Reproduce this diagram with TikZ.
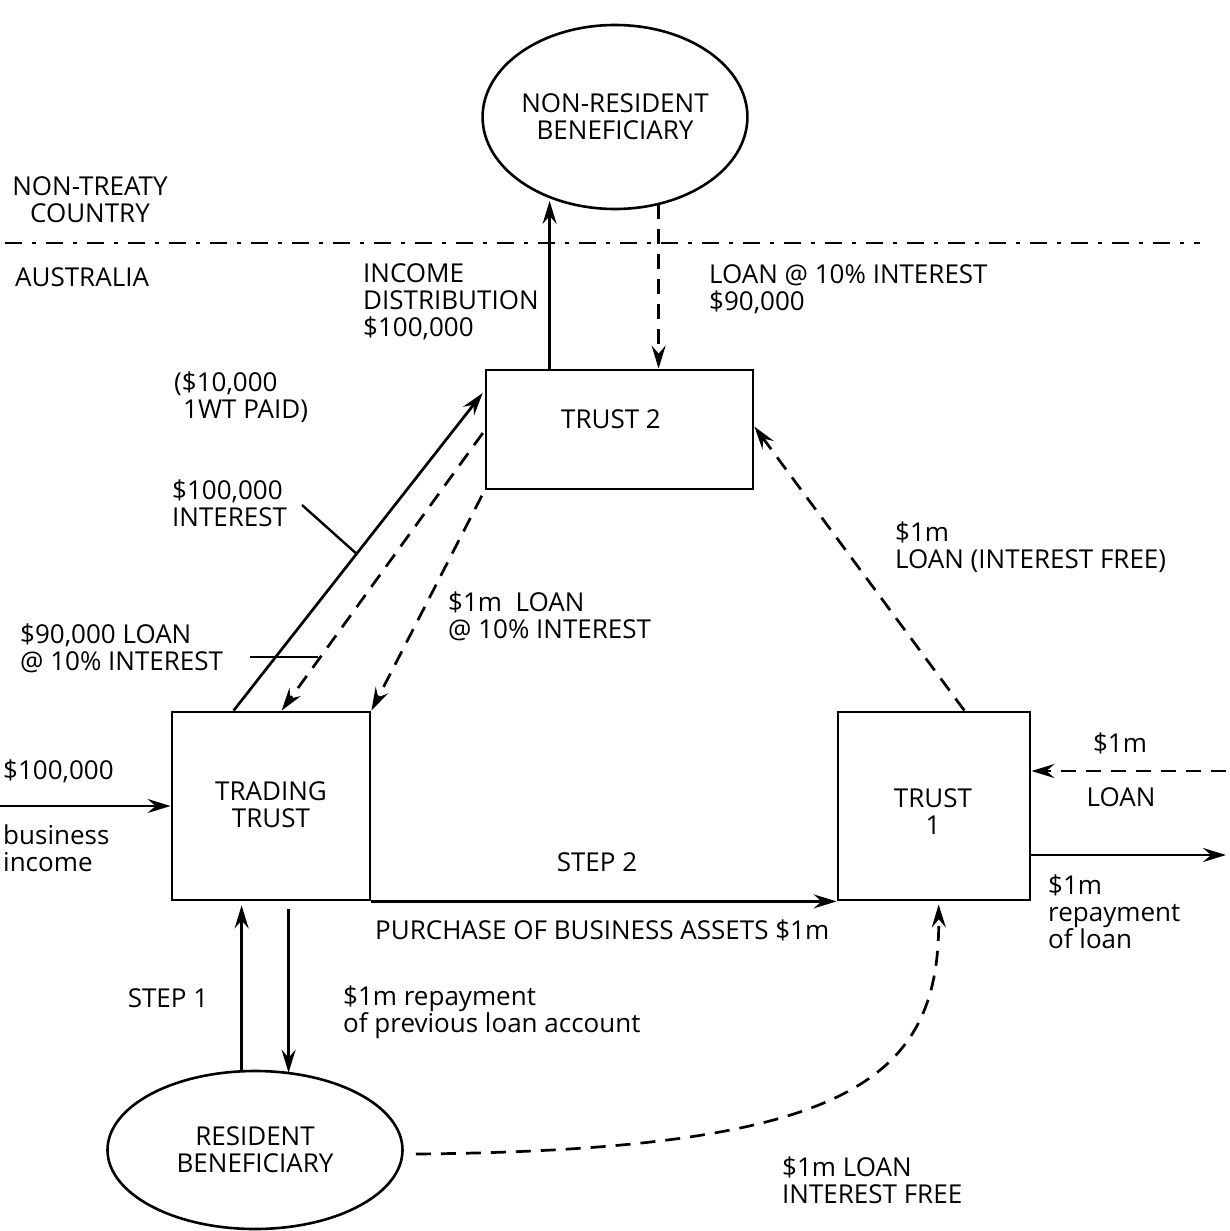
\documentclass[tikz,border=0pt]{standalone}
\usepackage{fontspec}
\setmainfont{Open Sans}
\usetikzlibrary{arrows.meta,shapes.geometric,calc}
\begin{document}
\begin{tikzpicture}[x=1pt,y=-1pt,
  every node/.style={font=\fontsize{26}{27}\selectfont},
  lbl/.style={inner sep=0pt, align=left},
  ctr/.style={inner sep=0pt, align=center},
  boxnode/.style={draw, line width=2.8pt, inner sep=0pt},
  ell/.style={draw, ellipse, line width=2.6pt, inner sep=0pt, align=center},
  tip/.style={-{Stealth[length=23pt,width=14pt,inset=8pt]}},
  solidarrow/.style={tip, line width=2.7pt},
  dasharrow/.style={tip, line width=2.7pt, dash pattern=on 15pt off 10pt},
  leader/.style={line width=2.4pt},
  border/.style={line width=2.4pt, dash pattern=on 17pt off 10pt on 4pt off 10pt},
]
\useasboundingbox (0,0) rectangle (1229,1231);
\clip (0,0) rectangle (1229,1231);

% ellipses
\node[ell, minimum width=236pt, minimum height=184pt] (nonres) at (615,117) {NON-RESIDENT\\BENEFICIARY};
\node[ell, minimum width=295pt, minimum height=158pt] (res) at (255,1150) {RESIDENT\\BENEFICIARY};

% boxes
\node[boxnode, minimum width=267pt, minimum height=119pt] (t2) at (619.5,429.5) {};
\node[boxnode, minimum width=198pt, minimum height=188pt] (tt) at (271,806) {};
\node[boxnode, minimum width=192pt, minimum height=188pt] (t1) at (934,806) {};
\node[ctr] (t2t) at (611,419) {TRUST 2};
\node[ctr] (ttt) at (271,805) {TRADING\\TRUST};
\node[ctr] (t1t) at (933,812) {TRUST\\1};

% border line
\coordinate (bl) at (5,243);
\coordinate (br) at (1200,243);
\draw[border] (bl) -- (br);

% labels
\node[ctr] (ntc) at (90,200) {NON-TREATY\\COUNTRY};
\node[lbl, anchor=west] (aus) at (15,277) {AUSTRALIA};
\node[lbl, anchor=west] (incd) at (363,302) {INCOME\\DISTRIBUTION\\\$100,000};
\node[lbl, anchor=west] (loan90top) at (709,289) {LOAN @ 10\% INTEREST\\\$90,000};
\node[lbl, anchor=west] (iwt) at (174,397) {(\$10,000\\\hspace*{9pt}1WT PAID)};
\node[lbl, anchor=west] (int) at (172,503) {\$100,000\\INTEREST};
\node[lbl, anchor=west] (l90) at (20,648) {\$90,000 LOAN\\@ 10\% INTEREST};
\node[lbl, anchor=west] (l1m) at (448,616) {\$1m\ \ LOAN\\@ 10\% INTEREST};
\node[lbl, anchor=west] (lif) at (895,547) {\$1m\\LOAN (INTEREST FREE)};
\node[ctr] (m1) at (1120,743) {\$1m};
\node[ctr] (loanl) at (1121,797) {LOAN};
\node[lbl, anchor=west] (inc) at (3,771) {\$100,000};
\node[lbl, anchor=west] (bi) at (3,848) {business\\income};
\node[ctr] (s2) at (597,862) {STEP 2};
\node[lbl, anchor=west] (pba) at (375,930) {PURCHASE OF BUSINESS ASSETS \$1m};
\node[ctr] (s1) at (168,998) {STEP 1};
\node[lbl, anchor=west] (rep) at (343,1012) {\$1m repayment\\of previous loan account};
\node[lbl, anchor=west] (lif2) at (782,1180) {\$1m LOAN\\INTEREST FREE};
\node[lbl, anchor=west] (rol) at (1048,912) {\$1m\\repayment\\of loan};

% trust 2 <-> non-resident
\draw[solidarrow] ([xshift=65pt]t2.north west) -- ([xshift=65pt,yshift=-2pt]t2.north west |- nonres.232);
\draw[dasharrow] ([xshift=174pt]t2.north west |- nonres.298) -- ([xshift=174pt]t2.north west);

% trading trust <-> trust 2
\draw[solidarrow, shorten >=3pt] ([xshift=63pt]tt.north west) -- ([yshift=-22pt]t2.north west) coordinate[pos=0.49] (p1);
\draw[dasharrow, shorten <=3pt] ([yshift=-62pt]t2.north west) -- ([xshift=111pt]tt.north west);
\draw[dasharrow, shorten <=6pt] (t2.south west) -- (tt.north east);

% leaders
\coordinate (l1) at (302,505);
\draw[leader] (l1) -- (p1);
\coordinate (l2a) at (250,657);
\coordinate (l2b) at (318,657);
\draw[leader] (l2a) -- (l2b);

% trust 1 -> trust 2
\draw[dasharrow] ([xshift=-67pt]t1.north east) -- ([yshift=-58pt]t2.north east);

% incoming income
\coordinate (inl) at (0,806);
\draw[solidarrow] (inl) -- (tt.west);

% trust 1 right side
\coordinate (loanin) at (1226,771);
\draw[dasharrow] (loanin) -- ([yshift=35pt]t1.east);
\coordinate (repout) at (1226,855);
\draw[solidarrow] ([yshift=-49pt]t1.east) -- (repout);

% step 2
\draw[solidarrow] (tt.south east) -- (t1.south west);

% step 1
\draw[solidarrow, shorten >=4pt] ([xshift=71pt]tt.south west |- res.north) -- ([xshift=71pt]tt.south west);
\draw[solidarrow] ([xshift=118pt,yshift=-8pt]tt.south west) -- ([xshift=118pt,yshift=-3pt]tt.south west |- res.north);

% resident -> trust 1
\draw[dasharrow, shorten >=3pt] ([xshift=12pt,yshift=-4pt]res.east) .. controls (850,1150) and (940,1080) .. ([xshift=102pt]t1.south west);
\end{tikzpicture}
\end{document}
